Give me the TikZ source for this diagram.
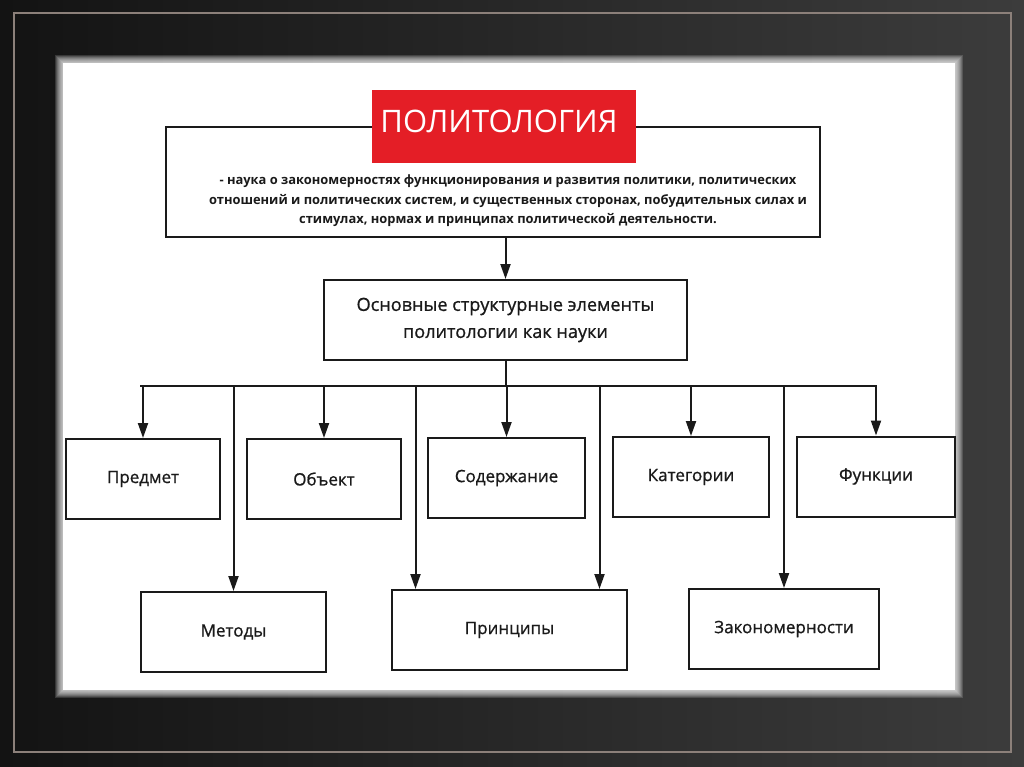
\documentclass[tikz,border=0pt]{standalone}
\usepackage{fontspec}
\setmainfont{Open Sans}
\newfontfamily\medfont[RawFeature={embolden=0.9}]{Open Sans}
\usepackage{tikz}
\usetikzlibrary{arrows.meta, positioning, calc}
\usepackage{xcolor}
\definecolor{cRED}{HTML}{E41E26}
\definecolor{cFRAME}{HTML}{8C807A}
\definecolor{cBGL}{HTML}{131313}
\definecolor{cBGR}{HTML}{3C3C3C}
\definecolor{cINK}{HTML}{1A1A1A}

\begin{document}
\begin{tikzpicture}[x=1pt, y=-1pt,
  box/.style={draw=cINK, line width=2pt, fill=white, minimum height=80pt, inner sep=0pt, text=cINK, font=\medfont\fontsize{17}{20}\selectfont},
  arr/.style={draw=cINK, line width=2pt, -{Triangle[length=15pt, width=10pt]}},
  wire/.style={draw=cINK, line width=2pt},
]
\useasboundingbox (0,0) rectangle (1024,767);
% backdrop
\shade[left color=cBGL, right color=cBGR] (0,0) rectangle (1024,767);
\draw[cFRAME, line width=1.5pt] (14,13) rectangle (1011,752);
\foreach \d in {1,...,8}
  \fill[white, opacity=0.15] ({63-\d},{63-\d}) rectangle ({955+\d},{690+\d});
\fill[white] (63,63) rectangle (955,690);

% top block
\node[draw=cINK, line width=2pt, fill=white, minimum width=654pt, minimum height=110pt, inner sep=0pt] (defbox) at (493,182) {};
\node[font=\bfseries\fontsize{12.9}{19.5}\selectfont, align=center, text=cINK] (deftext) at (508,201)
  {- наука о закономерностях функционирования и развития политики, политических\\
   отношений и политических систем, и существенных сторонах, побудительных силах и\\
   стимулах, нормах и принципах политической деятельности.};
\node[fill=cRED, minimum width=264pt, minimum height=73pt, inner sep=0pt] (title) at (504,126.5) {};
\node[text=white, font=\fontsize{31}{34}\selectfont] (titletext) at (499,121) {ПОЛИТОЛОГИЯ};

\node[box, minimum width=363pt, align=center, font=\medfont\fontsize{18.1}{27}\selectfont] (core) at (505.5,320)
  {Основные структурные элементы\\политологии как науки};

% first row
\node[box, minimum width=154pt] (predmet) at (143,479) {Предмет};
\node[box, minimum width=154pt] (obekt) at (324,479) {Объект};
\node[box, minimum width=157pt] (soder) at (506.5,478) {Содержание};
\node[box, minimum width=156pt] (kateg) at (691,477) {Категории};
\node[box, minimum width=158pt] (funk) at (876,476.5) {Функции};
% second row
\node[box, minimum width=185pt] (metody) at (233.5,632) {Методы};
\node[box, minimum width=235pt] (princ) at (509.5,630) {Принципы};
\node[box, minimum width=190pt] (zakon) at (784,629) {Закономерности};

\coordinate (busL) at (140,386);
\coordinate (busR) at (877,386);
\coordinate (p1) at ([xshift=-94pt]princ.north);
\coordinate (p2) at ([xshift=90pt]princ.north);

\draw[arr] (defbox.south -| core.north) -- (core.north);
\draw[wire] (core.south) -- (core.south |- busL);
\draw[wire] (busL) -- (busR);
\foreach \n in {predmet, obekt, soder, kateg, funk, metody, zakon}
  \draw[arr] (busL -| \n.north) -- (\n.north);
\draw[arr] (busL -| p1) -- (p1);
\draw[arr] (busL -| p2) -- (p2);
\end{tikzpicture}
\end{document}
